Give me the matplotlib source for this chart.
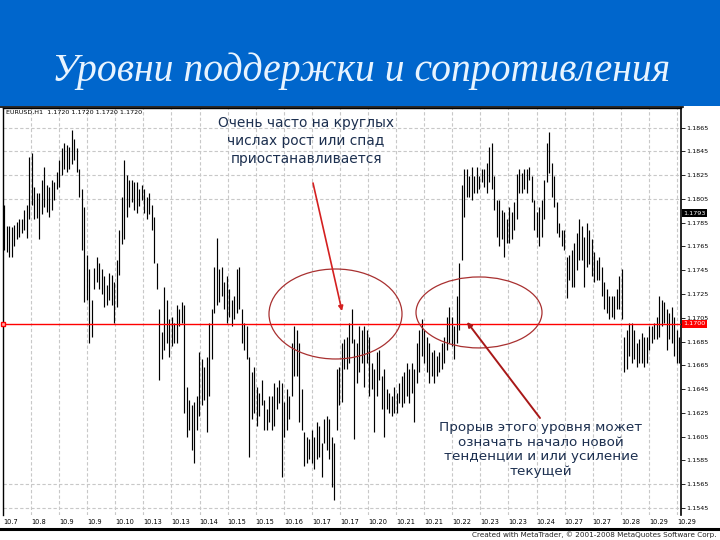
import numpy as np
import matplotlib
matplotlib.use("Agg")
import matplotlib.pyplot as plt
from matplotlib.patches import Rectangle, Ellipse
from matplotlib.lines import Line2D
import matplotlib.transforms as mtransforms

PIP = 1e-4

# EURUSD H1 bars: highs / lows in pips (price * 10000)
bar_high_pips = [
    11800, 11782, 11782, 11781, 11783, 11786, 11788, 11788, 11796, 11800,
    11840, 11844, 11815, 11810, 11810, 11821, 11832, 11817, 11815, 11821,
    11819, 11828, 11838, 11848, 11852, 11850, 11849, 11863, 11855, 11848,
    11830, 11813, 11798, 11758, 11746, 11720, 11747, 11756, 11751, 11746,
    11740, 11733, 11743, 11741, 11735, 11754, 11779, 11807, 11838, 11825,
    11821, 11821, 11819, 11819, 11813, 11817, 11813, 11807, 11810, 11800,
    11790, 11751, 11712, 11693, 11731, 11720, 11704,
    11706, 11701, 11716, 11712, 11718, 11716, 11647, 11636, 11632, 11634,
    11639, 11676, 11670, 11664, 11672, 11701, 11712, 11748, 11772, 11746,
    11748, 11735, 11740, 11729, 11720, 11723, 11746, 11748, 11712, 11701,
    11698, 11672, 11659, 11664, 11647, 11642, 11653, 11636, 11628, 11639,
    11639, 11650, 11647, 11653, 11650, 11634, 11645, 11639, 11684, 11698,
    11695, 11684, 11645, 11609, 11605, 11603, 11611, 11605, 11617, 11614,
    11600, 11620, 11622, 11620, 11605, 11600,
    11662, 11664, 11684, 11687, 11689, 11701, 11712, 11687, 11684, 11698,
    11695, 11698, 11695, 11689, 11667, 11662, 11676, 11678, 11656, 11662,
    11645, 11642, 11639, 11647, 11642, 11650, 11656, 11659, 11667, 11662,
    11667, 11662, 11684, 11695, 11704, 11695, 11689, 11684, 11676, 11678,
    11673, 11676, 11684, 11689, 11706, 11714, 11706, 11698, 11723, 11751,
    11817, 11830, 11830, 11824, 11832, 11824, 11832, 11824, 11830, 11830,
    11835, 11849, 11852, 11824, 11804,
    11804, 11796, 11794, 11788, 11798, 11794, 11802, 11826, 11830, 11827,
    11830, 11830, 11832, 11824, 11804, 11794, 11798, 11804, 11821, 11852,
    11861, 11835, 11824, 11802, 11785, 11779, 11779, 11756, 11758, 11762,
    11768, 11776, 11788, 11782, 11773, 11785, 11779, 11771, 11760, 11754,
    11756, 11748, 11735, 11729, 11723, 11723, 11723, 11729, 11740, 11746,
    11689, 11695, 11701, 11701, 11695, 11684, 11687, 11692, 11689, 11689,
    11698, 11698, 11701, 11706, 11723, 11720, 11718, 11712, 11709, 11714,
    11706, 11695, 11689,
]
bar_low_pips = [
    11762, 11760, 11756, 11756, 11765, 11771, 11773, 11776, 11779, 11772,
    11788, 11800, 11788, 11789, 11771, 11792, 11798, 11794, 11790, 11796,
    11804, 11813, 11815, 11825, 11830, 11828, 11830, 11834, 11838, 11828,
    11807, 11762, 11718, 11720, 11684, 11689, 11729, 11735, 11729, 11725,
    11714, 11716, 11720, 11716, 11701, 11714, 11741, 11767, 11771, 11790,
    11798, 11802, 11796, 11793, 11799, 11804, 11793, 11788, 11792, 11779,
    11751, 11729, 11653, 11670, 11678, 11684, 11672,
    11681, 11684, 11684, 11698, 11701, 11625, 11605, 11611, 11594, 11583,
    11611, 11622, 11632, 11636, 11609, 11639, 11670, 11709, 11716, 11718,
    11723, 11712, 11701, 11706, 11698, 11704, 11709, 11712, 11684, 11678,
    11670, 11588, 11620, 11625, 11614, 11622, 11632, 11611, 11611, 11617,
    11611, 11614, 11628, 11633, 11571, 11605, 11611, 11620, 11639, 11656,
    11656, 11617, 11611, 11580, 11583, 11586, 11583, 11578, 11586, 11588,
    11571, 11600, 11594, 11586, 11563, 11552,
    11611, 11632, 11634, 11662, 11662, 11667, 11684, 11603, 11650, 11659,
    11667, 11647, 11667, 11639, 11645, 11609, 11639, 11653, 11628, 11605,
    11628, 11625, 11622, 11625, 11625, 11633, 11630, 11633, 11639, 11633,
    11642, 11617, 11650, 11659, 11673, 11667, 11659, 11650, 11656, 11650,
    11656, 11659, 11662, 11667, 11678, 11684, 11681, 11670, 11684, 11695,
    11754, 11790, 11807, 11807, 11804, 11810, 11810, 11813, 11819, 11815,
    11810, 11819, 11813, 11796, 11773,
    11765, 11771, 11756, 11768, 11768, 11771, 11779, 11788, 11810, 11810,
    11813, 11810, 11821, 11802, 11779, 11773, 11765, 11773, 11788, 11819,
    11827, 11807, 11798, 11776, 11773, 11765, 11762, 11722, 11737, 11731,
    11731, 11745, 11754, 11754, 11731, 11748, 11750, 11740, 11735, 11737,
    11737, 11723, 11712, 11709, 11704, 11706, 11704, 11712, 11712, 11704,
    11659, 11662, 11673, 11667, 11670, 11664, 11667, 11667, 11664, 11667,
    11678, 11684, 11687, 11687, 11689, 11698, 11701, 11678, 11687, 11684,
    11673, 11667, 11667,
]

date_labels = ["10.7", "10.8", "10.9", "10.9", "10.10", "10.13", "10.13", "10.14",
               "10.15", "10.15", "10.16", "10.17", "10.17", "10.20", "10.21", "10.21",
               "10.22", "10.23", "10.23", "10.24", "10.27", "10.27", "10.28", "10.29",
               "10.29"]
price_ticks = [1.1865, 1.1845, 1.1825, 1.1805, 1.1785, 1.1765, 1.1745, 1.1725,
               1.1705, 1.1685, 1.1665, 1.1645, 1.1625, 1.1605, 1.1585, 1.1565, 1.1545]
grid_prices = [1.1865, 1.1845, 1.1825, 1.1805, 1.1565, 1.1545]
level_price = 1.1700
last_price = 1.1793

title = "Уровни поддержки и сопротивления"
note_top = "Очень часто на круглых\nчислах рост или спад\nприостанавливается"
note_bottom = "Прорыв этого уровня может\nозначать начало новой\nтенденции и или усиление\nтекущей"
chart_caption = "EURUSD,H1  1.1720 1.1720 1.1720 1.1720"
footer = "Created with MetaTrader, \u00a9 2001-2008 MetaQuotes Software Corp."

W, H = 720, 540
fig = plt.figure(figsize=(7.2, 5.4), dpi=100)
fig.patch.set_facecolor("white")


def fx(px):
    return px / W


def fy(py):
    return 1 - py / H


# slide header
fig.patches.append(Rectangle((0, fy(106)), 1, 106 / H, transform=fig.transFigure,
                             facecolor="#0066CC", edgecolor="none", zorder=0))
fig.text(fx(361), fy(81), title, family="Liberation Serif", style="italic",
         fontsize=28.5, color="#E8F4FF", ha="center", va="baseline")
fig.add_artist(Line2D([0, fx(683)], [fy(107)] * 2, transform=fig.transFigure,
                      color="black", lw=1.2))

# chart
ax = fig.add_axes([fx(3), fy(515), fx(681) - fx(3), fy(108) - fy(515)])
n = len(bar_high_pips)
idx = np.arange(n)
high = np.array(bar_high_pips) * PIP
low = np.array(bar_low_pips) * PIP
ax.set_xlim(-0.4, n - 0.2)
ax.set_ylim(1.15391, 1.18815)
ax.set_facecolor("white")

label_pos = np.linspace(-0.4, n - 1.8, len(date_labels))
ax.vlines(label_pos[1:], 1.15391, 1.18815, colors="#c8c8c8", lw=0.8,
          linestyles=(0, (3, 2)), zorder=1)
ax.hlines(grid_prices, -0.4, n - 0.2, colors="#c8c8c8", lw=0.8,
          linestyles=(0, (3, 2)), zorder=1)

ax.vlines(idx, low, high, colors="black", lw=0.85, zorder=2)

# support/resistance level
ax.axhline(level_price, color="#FF0000", lw=1.0, zorder=3)
ax.plot([-0.4], [level_price], marker="s", ms=3, mfc="#ffb0b0", mec="#FF0000",
        clip_on=False, zorder=4)

ax.set_xticks(label_pos)
ax.set_xticklabels(date_labels, ha="left", fontsize=4.8)
ax.tick_params(axis="x", length=0, pad=3)

ax.yaxis.tick_right()
ax.set_yticks(price_ticks)
ax.set_yticklabels(["%.4f" % p for p in price_ticks], fontsize=4.6)
ax.tick_params(axis="y", length=3, width=0.6, pad=1)

for s in ["left", "top"]:
    ax.spines[s].set_linewidth(1.0)
ax.spines["right"].set_linewidth(1.2)
ax.spines["bottom"].set_visible(False)

trans = mtransforms.blended_transform_factory(ax.transAxes, ax.transData)
ax.text(1.004, level_price, "%.4f" % level_price, transform=trans, fontsize=4.6,
        color="white", ha="left", va="center",
        bbox=dict(boxstyle="square,pad=0.2", fc="#FF0000", ec="none"), zorder=5)
ax.plot([1.0, 1.004], [level_price, level_price], transform=trans, color="#FF0000",
        lw=1.0, clip_on=False)
ax.text(1.004, last_price, "%.4f" % last_price, transform=trans, fontsize=4.6,
        color="white", ha="left", va="center",
        bbox=dict(boxstyle="square,pad=0.2", fc="black", ec="none"), zorder=5)

ax.text(0.004, 0.996, chart_caption, transform=ax.transAxes, fontsize=4.6,
        ha="left", va="top", color="black")

# annotations
ax.add_patch(Ellipse((132.6, 1.17082), 53.2, 0.00757, fill=False, ec="#A83030",
                     lw=0.9, zorder=4))
ax.add_patch(Ellipse((190.0, 1.17095), 50.4, 0.00597, fill=False, ec="#A83030",
                     lw=0.9, zorder=4))
ax.annotate("", xy=(135.2, 1.17107), xytext=(123.6, 1.18184),
            arrowprops=dict(arrowstyle="-|>", color="#D42020", lw=1.2,
                            mutation_scale=7, shrinkA=0, shrinkB=0), zorder=5)
ax.annotate("", xy=(185.2, 1.17015), xytext=(214.4, 1.16207),
            arrowprops=dict(arrowstyle="-|>", color="#A81818", lw=1.4,
                            mutation_scale=7, shrinkA=0, shrinkB=0), zorder=5)

ax.text(120.8, 1.18537, note_top, ha="center", va="center", fontsize=9.9,
        color="#1c2f4f", linespacing=1.35, family="DejaVu Sans", zorder=6)
ax.text(214.8, 1.15942, note_bottom, ha="center", va="center", fontsize=9.7,
        color="#1c2f4f", linespacing=1.15, family="DejaVu Sans", zorder=6)

# bottom bar and footer
fig.add_artist(Line2D([0, 1], [fy(528.5)] * 2, transform=fig.transFigure,
                      color="black", lw=2.2))
fig.text(fx(716), fy(535), footer, ha="right", va="center", fontsize=5.2,
         color="#222222")

fig.savefig("out.png", dpi=100, facecolor="white")
